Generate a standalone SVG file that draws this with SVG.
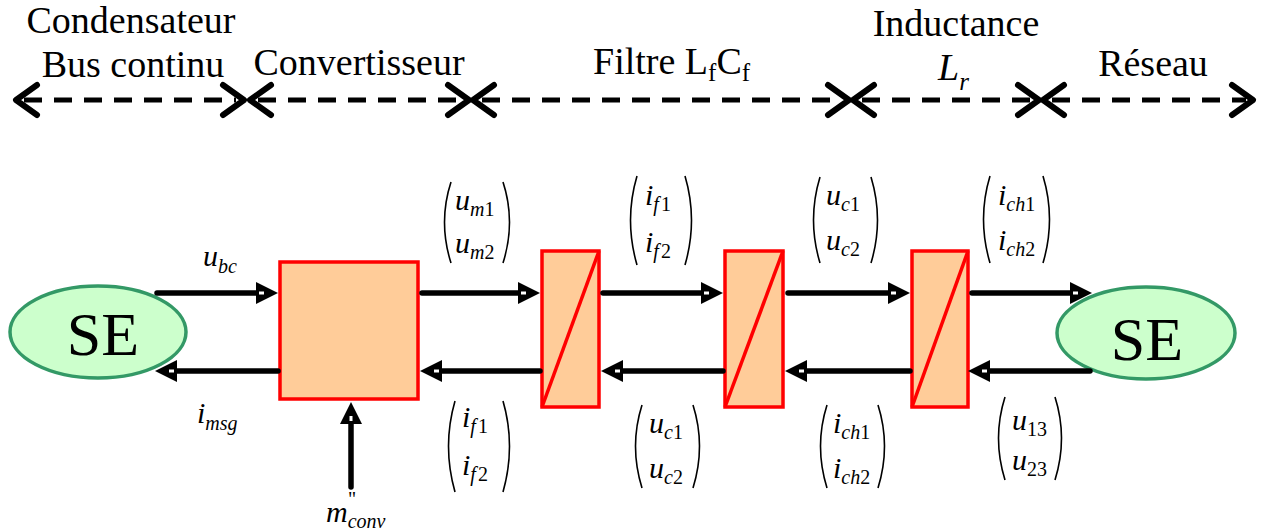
<svg xmlns="http://www.w3.org/2000/svg" width="1268" height="532" viewBox="0 0 1268 532">
<style>
.t{font-family:"Liberation Serif","Times New Roman",serif;fill:#000}
.hdr{font-size:38px}
.m{font-size:30px;font-style:italic}
.s{font-size:20px;font-style:italic}
.sn{font-size:20px;font-style:normal}
.se{font-size:62px}
.blk{fill:#ffcc99;stroke:#ff0000;stroke-width:3.5}
.ell{fill:#ccffcc;stroke:#339966;stroke-width:3.5}
.diag{stroke:#ff0000;stroke-width:3.5;fill:none}
.wire{stroke:#000;stroke-width:5.5;fill:none;stroke-linecap:round;marker-end:url(#ah)}
.dash{stroke:#000;stroke-width:5;fill:none;stroke-dasharray:18 12}
.chev{stroke:#000;stroke-width:6;fill:none;stroke-linecap:round;stroke-linejoin:round}
.par{stroke:#000;stroke-width:1.6;fill:none}
</style>
<defs>
<marker id="ah" markerUnits="userSpaceOnUse" markerWidth="24" markerHeight="24" refX="14" refY="11" orient="auto" overflow="visible">
<path d="M0,0 L22,11 L0,22 Z" fill="#000"/>
<rect x="3" y="9.5" width="5" height="3" fill="#fff"/>
</marker>
</defs>

<!-- header labels -->
<g id="labels-top">
<text class="t hdr" x="131" y="33" text-anchor="middle">Condensateur</text>
<text class="t hdr" x="133" y="77" text-anchor="middle">Bus continu</text>
<text class="t hdr" x="359" y="75" text-anchor="middle">Convertisseur</text>
<text class="t hdr" x="593" y="74">Filtre L<tspan font-size="25" dy="7">f</tspan><tspan dy="-7">C</tspan><tspan font-size="25" dy="7">f</tspan></text>
<text class="t hdr" x="956" y="36" text-anchor="middle">Inductance</text>
<text class="t hdr" x="938" y="80" font-style="italic">L<tspan font-size="25" dy="10">r</tspan></text>
<text class="t hdr" x="1153" y="76" text-anchor="middle">Réseau</text>
</g>

<!-- dashed double arrows -->
<g id="scale-arrows">
<line class="dash" x1="24" y1="100" x2="236" y2="100"/>
<polyline class="chev" points="37,85 16,100 37,115"/>
<polyline class="chev" points="223,85 244,100 223,115"/>
<line class="dash" x1="258" y1="100" x2="462" y2="100"/>
<polyline class="chev" points="271,85 250,100 271,115"/>
<polyline class="chev" points="448,85 469,100 448,115"/>
<line class="dash" x1="482" y1="100" x2="842" y2="100"/>
<polyline class="chev" points="494,85 473,100 494,115"/>
<polyline class="chev" points="828,85 849,100 828,115"/>
<line class="dash" x1="862" y1="100" x2="1032" y2="100"/>
<polyline class="chev" points="874,85 853,100 874,115"/>
<polyline class="chev" points="1018,85 1039,100 1018,115"/>
<line class="dash" x1="1052" y1="100" x2="1246" y2="100"/>
<polyline class="chev" points="1064,85 1043,100 1064,115"/>
<polyline class="chev" points="1232,85 1253,100 1232,115"/>
</g>

<!-- nodes -->
<g id="se-left">
<ellipse class="ell" cx="98" cy="332" rx="88" ry="46"/>
<text class="t se" x="103" y="355" text-anchor="middle">SE</text>
</g>
<g id="convertisseur">
<rect class="blk" x="280" y="262" width="138" height="137"/>
</g>
<g id="block1">
<rect class="blk" x="542" y="251" width="57" height="156"/>
<line class="diag" x1="542" y1="407" x2="599" y2="251"/>
</g>
<g id="block2">
<rect class="blk" x="725" y="251" width="58" height="156"/>
<line class="diag" x1="725" y1="407" x2="783" y2="251"/>
</g>
<g id="block3">
<rect class="blk" x="912" y="251" width="56" height="156"/>
<line class="diag" x1="912" y1="407" x2="968" y2="251"/>
</g>
<g id="se-right">
<ellipse class="ell" cx="1146" cy="333" rx="89" ry="46"/>
<text class="t se" x="1147" y="360" text-anchor="middle">SE</text>
</g>

<!-- connectors -->
<g id="connectors">
<line class="wire" x1="157" y1="293" x2="270" y2="293"/>
<line class="wire" x1="422" y1="293" x2="532" y2="293"/>
<line class="wire" x1="603" y1="293" x2="715" y2="293"/>
<line class="wire" x1="788" y1="293" x2="902" y2="293"/>
<line class="wire" x1="972" y1="293" x2="1084" y2="293"/>
<line class="wire" x1="278" y1="371" x2="163" y2="371"/>
<line class="wire" x1="540" y1="371" x2="428" y2="371"/>
<line class="wire" x1="723" y1="371" x2="609" y2="371"/>
<line class="wire" x1="910" y1="371" x2="793" y2="371"/>
<line class="wire" x1="1090" y1="371" x2="976" y2="371"/>
<line class="wire" x1="351" y1="487" x2="351" y2="410"/>
</g>

<!-- signal labels -->
<g id="signal-labels">
<text class="t m" x="203" y="266">u<tspan class="s" dy="7">bc</tspan></text>
<text class="t m" x="197" y="423">i<tspan class="s" dy="7">msg</tspan></text>
<text class="t m" x="326" y="522">m<tspan class="s" dy="6">conv</tspan></text>
<text class="t sn" x="348" y="506">"</text>

<!-- matrices top -->
<path class="par" d="M451,182 Q438,222 451,263"/><path class="par" d="M503,182 Q516,222 503,263"/>
<text class="t m" x="455" y="210">u<tspan class="s" dy="6">m</tspan><tspan class="sn">1</tspan></text>
<text class="t m" x="455" y="253">u<tspan class="s" dy="6">m</tspan><tspan class="sn">2</tspan></text>

<path class="par" d="M637,176 Q624,220 637,265"/><path class="par" d="M685,176 Q698,220 685,265"/>
<text class="t m" x="645" y="205">i<tspan class="s" dy="6">f</tspan><tspan class="sn" dx="2">1</tspan></text>
<text class="t m" x="645" y="252">i<tspan class="s" dy="6">f</tspan><tspan class="sn" dx="2">2</tspan></text>

<path class="par" d="M820,177 Q807,220 820,263"/><path class="par" d="M871,177 Q884,220 871,263"/>
<text class="t m" x="826" y="205">u<tspan class="s" dy="6">c</tspan><tspan class="sn">1</tspan></text>
<text class="t m" x="826" y="250">u<tspan class="s" dy="6">c</tspan><tspan class="sn">2</tspan></text>

<path class="par" d="M990,176 Q977,219 990,263"/><path class="par" d="M1043,176 Q1056,219 1043,263"/>
<text class="t m" x="998" y="205">i<tspan class="s" dy="6">ch</tspan><tspan class="sn">1</tspan></text>
<text class="t m" x="998" y="250">i<tspan class="s" dy="6">ch</tspan><tspan class="sn">2</tspan></text>

<!-- matrices bottom -->
<path class="par" d="M455,401 Q442,446 455,492"/><path class="par" d="M503,401 Q516,446 503,492"/>
<text class="t m" x="462" y="427">i<tspan class="s" dy="6">f</tspan><tspan class="sn" dx="2">1</tspan></text>
<text class="t m" x="462" y="475">i<tspan class="s" dy="6">f</tspan><tspan class="sn" dx="2">2</tspan></text>

<path class="par" d="M642,405 Q629,446 642,488"/><path class="par" d="M693,405 Q706,446 693,488"/>
<text class="t m" x="649" y="433">u<tspan class="s" dy="6">c</tspan><tspan class="sn">1</tspan></text>
<text class="t m" x="649" y="478">u<tspan class="s" dy="6">c</tspan><tspan class="sn">2</tspan></text>

<path class="par" d="M827,405 Q814,446 827,488"/><path class="par" d="M878,405 Q891,446 878,488"/>
<text class="t m" x="833" y="433">i<tspan class="s" dy="6">ch</tspan><tspan class="sn">1</tspan></text>
<text class="t m" x="833" y="478">i<tspan class="s" dy="6">ch</tspan><tspan class="sn">2</tspan></text>

<path class="par" d="M1005,397 Q992,438 1005,480"/><path class="par" d="M1055,397 Q1068,438 1055,480"/>
<text class="t m" x="1012" y="430">u<tspan class="sn" dy="6">13</tspan></text>
<text class="t m" x="1012" y="470">u<tspan class="sn" dy="6">23</tspan></text>
</g>
</svg>
